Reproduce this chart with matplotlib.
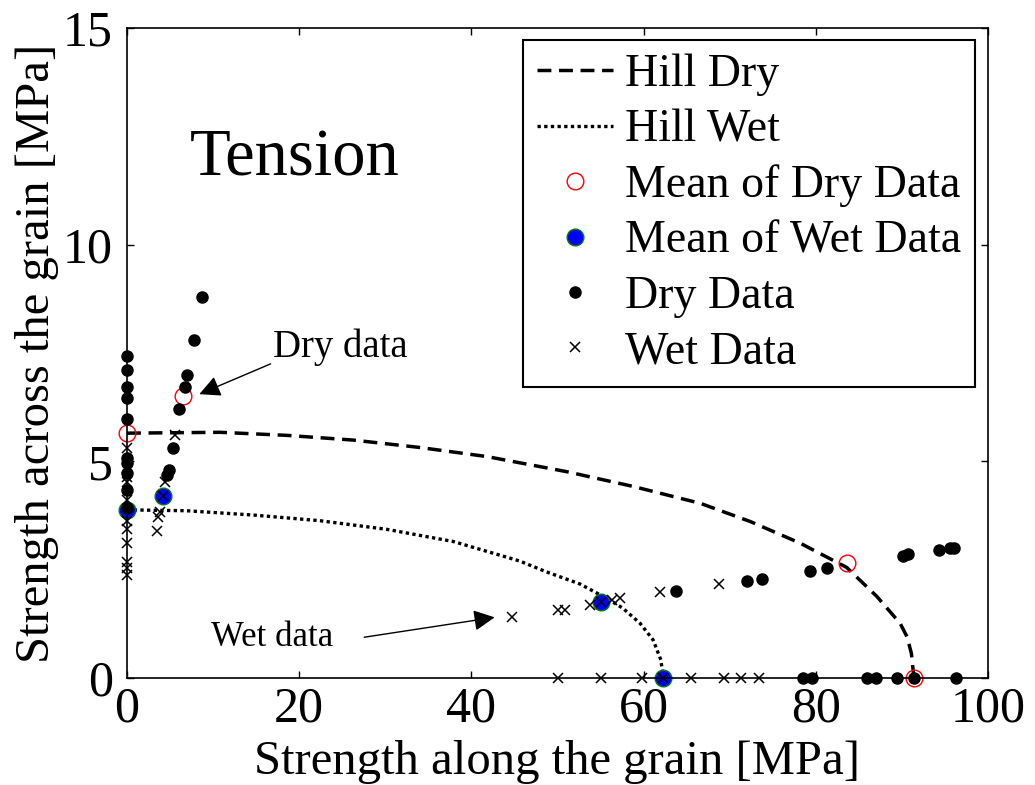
import matplotlib
matplotlib.use("Agg")
import matplotlib.pyplot as plt

plt.rcParams['font.family'] = ['Liberation Serif', 'DejaVu Serif']
plt.rcParams['mathtext.fontset'] = 'stix'

# Hill criterion curves
hill_dry_x = [0, 10.8, 18.5, 26.3, 34.0, 41.8, 51.1, 58.8, 66.6, 72.4, 78.2, 83.6, 87.1, 89.8, 90.6, 91.1, 91.4]
hill_dry_y = [5.65, 5.67, 5.60, 5.49, 5.32, 5.11, 4.76, 4.42, 4.03, 3.61, 3.11, 2.55, 1.88, 1.26, 0.95, 0.57, 0.0]
hill_wet_x = [0, 6.9, 14.7, 22.4, 30.2, 37.9, 45.6, 48.7, 52.6, 55.7, 57.6, 59.6, 61.1, 62.0, 62.3]
hill_wet_y = [3.88, 3.86, 3.76, 3.63, 3.43, 3.15, 2.70, 2.45, 2.17, 1.84, 1.61, 1.26, 0.88, 0.42, 0.0]

# Means
mean_dry_x = [0, 6.46, 83.6, 91.4]
mean_dry_y = [5.65, 6.51, 2.65, 0.0]
mean_wet_x = [0, 4.2, 55.1, 62.3]
mean_wet_y = [3.88, 4.20, 1.75, 0.0]

# Dry data
dry_x = [0, 0, 0, 0, 0, 0, 0, 0, 0, 0,
         8.67, 7.78, 7.0, 6.74, 6.08, 5.3, 4.85, 4.7,
         63.8, 72.0, 73.8, 79.3, 81.3, 90.1, 90.7, 94.3, 95.6, 96.0,
         78.5, 79.6, 86.0, 87.0, 89.4, 91.4, 96.3]
dry_y = [7.43, 7.11, 6.72, 6.46, 5.98, 5.07, 4.97, 4.72, 4.34, 3.92,
         8.80, 7.80, 6.99, 6.72, 6.20, 5.31, 4.80, 4.68,
         2.00, 2.25, 2.28, 2.48, 2.53, 2.82, 2.86, 2.95, 2.99, 2.99,
         0, 0, 0, 0, 0, 0, 0]

# Wet data
wet_x = [0, 0, 0, 0, 0, 0, 0, 0, 0, 0,
         5.57, 4.41, 4.2, 3.83, 3.64, 3.45,
         44.7, 50.1, 50.9, 53.8, 55.1, 56.3, 57.3, 61.9, 68.7,
         50.1, 55.1, 59.8, 62.3, 65.5, 69.3, 71.3, 73.4]
wet_y = [5.30, 4.65, 4.53, 4.11, 3.62, 3.45, 3.11, 2.68, 2.53, 2.38,
         5.61, 4.53, 4.20, 3.82, 3.72, 3.39,
         1.40, 1.58, 1.58, 1.68, 1.75, 1.80, 1.84, 1.98, 2.16,
         0, 0, 0, 0, 0, 0, 0, 0]

x_ticks = [0, 20, 40, 60, 80, 100]
y_ticks = [0, 5, 10, 15]

fig = plt.figure(figsize=(10.35, 7.85), dpi=100)
ax = fig.add_axes([127/1035, 1-678/785, (988-127)/1035, (678-28)/785])

ax.plot(hill_dry_x, hill_dry_y, color='k', lw=2.5, ls=(0, (4, 2.2)), label='Hill Dry')
ax.plot(hill_wet_x, hill_wet_y, color='k', lw=2.4, ls=(0, (1, 1)), label='Hill Wet')
ax.plot(mean_dry_x, mean_dry_y, ls='none', marker='o', ms=12, mfc='none', mec='red', mew=1.0,
        label='Mean of Dry Data', clip_on=False)
ax.plot(mean_wet_x, mean_wet_y, ls='none', marker='o', ms=12, mfc='blue', mec='green', mew=1.0,
        label='Mean of Wet Data', clip_on=False)
ax.plot(dry_x, dry_y, ls='none', marker='o', ms=8, mfc='k', mec='k', label='Dry Data', clip_on=False)
ax.plot(wet_x, wet_y, ls='none', marker='x', ms=7, mew=1.1, color='k', label='Wet Data', clip_on=False)

ax.set_xlim(0, 100)
ax.set_ylim(0, 15)
ax.set_xticks(x_ticks)
ax.set_yticks(y_ticks)
ax.tick_params(direction='in', length=5, width=1, top=True, right=True, labelsize=36)
ax.tick_params(axis='x', pad=6)
ax.tick_params(axis='y', pad=10)
for s in ax.spines.values():
    s.set_linewidth(1.2)

ax.set_xlabel('Strength along the grain [MPa]', fontsize=35, labelpad=5)
ax.set_ylabel('Strength across the grain [MPa]', fontsize=35, labelpad=3)

ax.text(7.3, 11.6, 'Tension', fontsize=48)

ax.annotate('Dry data', xy=(8.4, 6.55), xytext=(17.0, 7.19), fontsize=28,
            ha='left', va='bottom',
            arrowprops=dict(arrowstyle='-|>', color='k', lw=1, mutation_scale=32,
                            shrinkA=0, shrinkB=0,
                            relpos=(0, 0.1)))
ax.annotate('Wet data', xy=(42.7, 1.40), xytext=(9.8, 0.56), fontsize=25,
            ha='left', va='bottom',
            arrowprops=dict(arrowstyle='-|>', color='k', lw=1, mutation_scale=32,
                            shrinkA=0, shrinkB=0, relpos=(1.25, 0.5)))

leg = ax.legend(loc='upper right', bbox_to_anchor=(975/1035, 1-40/785),
                bbox_transform=fig.transFigure, borderaxespad=0,
                fontsize=33, frameon=True, fancybox=False, framealpha=1,
                edgecolor='k', handlelength=1.66, handletextpad=0.27,
                labelspacing=0.28, borderpad=0.3, numpoints=1)
leg.get_frame().set_linewidth(1.5)

fig.savefig('out.png', dpi=100)
